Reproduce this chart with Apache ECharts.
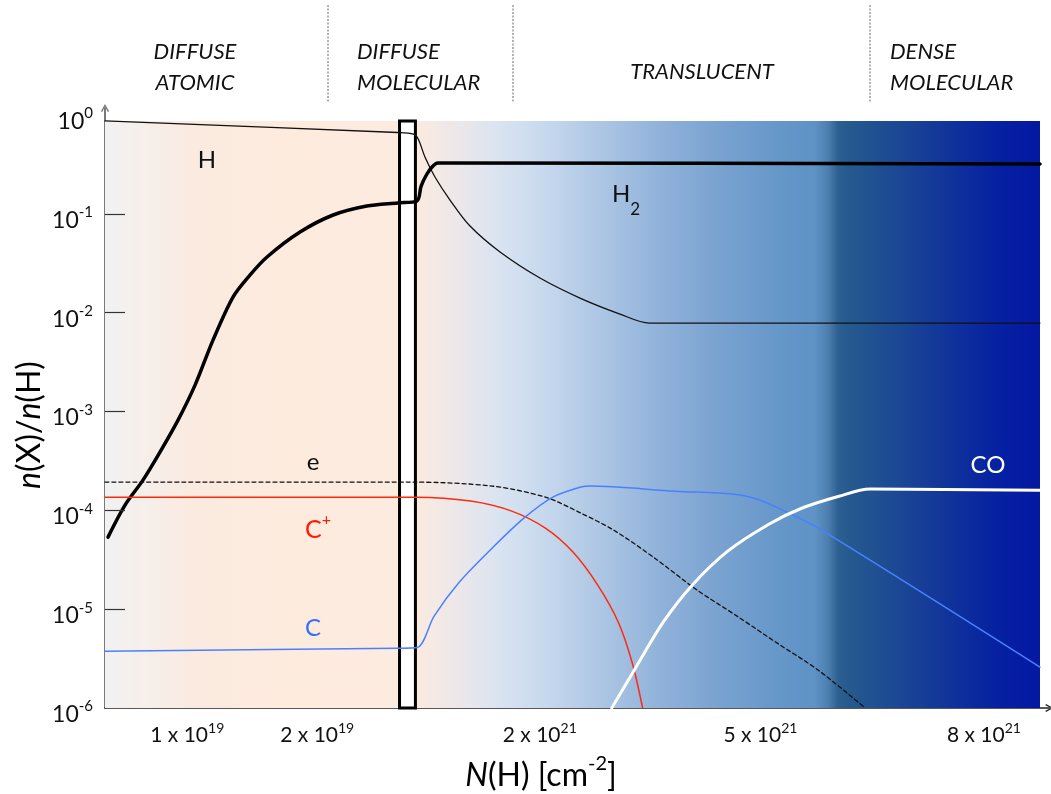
<!DOCTYPE html>
<html>
<head>
<meta charset="utf-8">
<script src="https://cdn.jsdelivr.net/npm/echarts@6/dist/echarts.min.js"></script>
<style>
  html, body { margin: 0; padding: 0; background: #ffffff; }
  #chart { width: 1051px; height: 794px; }
</style>
</head>
<body>
<div id="chart"></div>
<script>
// Schematic column-density axis: position units 0..100 across the plot
const xTickPos  = [8.8, 22.7, 46.5, 70.1, 94.0];
const xTickMant = ['1', '2', '2', '5', '8'];
const xTickExp  = ['19', '19', '21', '21', '21'];
const yTickValues = [1e-6, 1e-5, 1e-4, 1e-3, 1e-2, 1e-1, 1];
const yTickMarks = [1e-5, 1e-4, 1e-3, 1e-2, 1e-1];
const tickLength = 2.14;   // in position units along x

// Abundance profiles n(X)/n(H): [position, abundance]
const hAtomic = [[0, 0.87], [31.3, 0.665], [33.0, 0.64], [33.5, 0.571], [34.22, 0.376],
  [35.29, 0.236], [36.9, 0.138], [39.04, 0.0752], [42.25, 0.0411], [46.52, 0.0224],
  [50.8, 0.01405], [55.08, 9.68e-3], [58.2, 7.85e-3], [100, 7.85e-3]];
const hMolecular = [[0.32, 5.36e-5], [2.14, 1.13e-4], [4.06, 2.02e-4], [5.88, 3.88e-4],
  [7.81, 8.18e-4], [9.63, 1.85e-3], [11.55, 5.28e-3], [13.69, 1.44e-2], [15.5, 2.40e-2],
  [17.33, 3.66e-2], [20.86, 6.54e-2], [24.4, 9.73e-2], [28.0, 0.120], [31.3, 0.129],
  [33.37, 0.135], [33.8, 0.19], [34.4, 0.25], [35.0, 0.30], [35.6, 0.327], [100, 0.319]];
const electrons = [[0, 1.93e-4], [33.0, 1.93e-4], [41.4, 1.76e-4], [47.1, 1.36e-4],
  [50.9, 9.37e-5], [54.4, 6.31e-5], [58.8, 3.28e-5], [63.2, 1.59e-5], [67.6, 8.5e-6],
  [71.9, 4.53e-6], [76.3, 2.41e-6], [81.3, 1e-6]];
const carbonIon = [[0, 1.36e-4], [33.3, 1.36e-4], [39.1, 1.24e-4], [43.5, 9.82e-5],
  [47.1, 6.6e-5], [50.05, 3.78e-5], [52.7, 1.75e-5], [54.9, 7.38e-6], [56.4, 2.84e-6],
  [57.5, 1e-6]];
const carbonAtom = [[0, 3.76e-6], [31.3, 4.03e-6], [33.4, 4.1e-6], [35.2, 8.5e-6],
  [37.9, 1.88e-5], [41.4, 4.14e-5], [44.8, 8.34e-5], [47.9, 1.36e-4], [50.9, 1.72e-4],
  [51.9, 1.76e-4], [61.0, 1.56e-4], [67.1, 1.46e-4], [69.7, 1.30e-4], [72.7, 9.82e-5],
  [76.3, 6.6e-5], [100, 2.59e-6]];
const carbonMonoxide = [[54.2, 1e-6], [56.6, 2.41e-6], [59.7, 7.38e-6], [62.8, 1.75e-5],
  [66.6, 3.86e-5], [71.0, 7.24e-5], [74.5, 1.05e-4], [78.5, 1.39e-4], [81.8, 1.64e-4],
  [100, 1.60e-4]];

// Top of the shaded column and the narrow transition column
const plotTop = 0.87;
const transitionBox = [31.5, 33.2];

const FONT = 'Lato, "Noto Sans", sans-serif';
const chevron = 'path://M0,9 L5,0 L10,9 L8.4,9.8 L5,3 L1.6,9.8 Z';

const chart = echarts.init(document.getElementById('chart'), null, { renderer: 'canvas' });

function curve(name, data, color, width, type, z) {
  return {
    name: name, type: 'line', data: data, showSymbol: false, symbol: 'none',
    smooth: 0.3, silent: true, z: z,
    lineStyle: { color: color, width: width, type: type, cap: 'round', join: 'round' }
  };
}

const bgGradient = new echarts.graphic.LinearGradient(0, 0, 1, 0, [
  { offset: 0.00, color: '#f2f2f2' },
  { offset: 0.10, color: '#fbeadf' },
  { offset: 0.20, color: '#fdebde' },
  { offset: 0.33, color: '#fcebdf' },
  { offset: 0.38, color: '#ebe7ea' },
  { offset: 0.42, color: '#dae4f1' },
  { offset: 0.465, color: '#c9daee' },
  { offset: 0.53, color: '#adc6e4' },
  { offset: 0.594, color: '#90b2da' },
  { offset: 0.658, color: '#79a2d0' },
  { offset: 0.722, color: '#6597c9' },
  { offset: 0.759, color: '#5f92c5' },
  { offset: 0.773, color: '#4d7fb0' },
  { offset: 0.784, color: '#2d6091' },
  { offset: 0.795, color: '#255a8e' },
  { offset: 0.85, color: '#1b4794' },
  { offset: 0.914, color: '#0e2f9c' },
  { offset: 0.957, color: '#0520a2' },
  { offset: 1.00, color: '#0418a2' }
]);

function supRich(base, sup) {
  return {
    b: { fontFamily: FONT, fontSize: base, color: '#111', lineHeight: base + 4, verticalAlign: 'bottom' },
    s: { fontFamily: FONT, fontSize: sup, color: '#111', lineHeight: sup + 1, verticalAlign: 'top' }
  };
}

function regionText(x, y, text, align) {
  return {
    type: 'text', x: x, y: y, z: 20,
    style: { text: text, font: 'italic 22px ' + FONT, fill: '#111', align: align,
             verticalAlign: 'middle', lineHeight: 31 }
  };
}
function separator(x) {
  return {
    type: 'line', z: 20,
    shape: { x1: x, y1: 5, x2: x, y2: 103 },
    style: { stroke: '#666', lineWidth: 1, lineDash: [2, 1.5] }
  };
}
function species(x, y, text, color, rich) {
  return {
    type: 'text', x: x, y: y, z: 30,
    style: { text: text, fontFamily: FONT, fontSize: 24, fill: color, align: 'center',
             verticalAlign: 'middle', rich: rich || {} }
  };
}

const option = {
  animation: false,
  backgroundColor: '#ffffff',
  grid: { left: 105, top: 108, width: 944.35, height: 600, containLabel: false },
  xAxis: {
    type: 'value', min: 0, max: 101,
    axisLine: { show: true, lineStyle: { color: '#222', width: 1.5 },
                symbol: ['none', chevron], symbolSize: [14, 8] },
    axisTick: { show: false },
    splitLine: { show: false },
    axisLabel: {
      customValues: xTickPos, margin: 13,
      formatter: function (v) {
        let i = 0, best = Infinity;
        xTickPos.forEach(function (p, k) { if (Math.abs(p - v) < best) { best = Math.abs(p - v); i = k; } });
        return '{b|' + xTickMant[i] + ' x 10}{s|' + xTickExp[i] + '}';
      },
      rich: supRich(21, 14)
    }
  },
  yAxis: {
    type: 'log', logBase: 10, min: 1e-6, max: 1.177,
    axisLine: { show: true, lineStyle: { color: '#7a7a7a', width: 2 },
                symbol: ['none', chevron], symbolSize: [12, 8] },
    axisTick: { show: false },
    splitLine: { show: false },
    axisLabel: {
      customValues: yTickValues, margin: 12, padding: [9, 0, 0, 0],
      formatter: function (v) {
        const e = Math.round(Math.log10(v));
        return '{b|10}{s|' + e + '}';
      },
      rich: supRich(23, 15)
    }
  },
  series: [
    {
      name: 'background', type: 'line', data: [], silent: true, z: 1,
      markArea: {
        silent: true,
        itemStyle: { color: bgGradient },
        data: [[{ coord: [0, plotTop] }, { coord: [100, 1e-6] }]]
      }
    },
    {
      name: 'decade ticks', type: 'line', data: [], silent: true, z: 2,
      markLine: {
        silent: true, symbol: ['none', 'none'], label: { show: false },
        lineStyle: { color: '#333', width: 1.2, type: 'solid' },
        data: yTickMarks.map(function (v) { return [{ coord: [0, v] }, { coord: [tickLength, v] }]; })
      }
    },
    curve('H', hAtomic, '#111111', 1.3, 'solid', 3),
    curve('H2', hMolecular, '#000000', 3.5, 'solid', 3),
    curve('e', electrons, '#111111', 1.3, [4, 3], 3),
    curve('C+', carbonIon, '#ff2a0a', 1.5, 'solid', 3),
    curve('C', carbonAtom, '#4a80ff', 1.5, 'solid', 3),
    curve('CO', carbonMonoxide, '#ffffff', 3, 'solid', 3),
    {
      name: 'transition', type: 'line', data: [], silent: true, z: 10,
      markArea: {
        silent: true,
        itemStyle: { color: '#ffffff', borderColor: '#000000', borderWidth: 3 },
        data: [[{ coord: [transitionBox[0], plotTop] }, { coord: [transitionBox[1], 1e-6] }]]
      }
    }
  ],
  graphic: [
    separator(328), separator(513), separator(870),
    regionText(195, 67, 'DIFFUSE\nATOMIC', 'center'),
    regionText(357, 67, 'DIFFUSE\nMOLECULAR', 'left'),
    regionText(702, 72, 'TRANSLUCENT', 'center'),
    regionText(890, 67, 'DENSE\nMOLECULAR', 'left'),
    species(207, 160, 'H', '#111'),
    species(626, 200, '{m|H}{d|2}', '#111', {
      m: { fontFamily: FONT, fontSize: 24, color: '#111', lineHeight: 30, verticalAlign: 'top' },
      d: { fontFamily: FONT, fontSize: 17, color: '#111', lineHeight: 36, verticalAlign: 'bottom' }
    }),
    species(313, 462, 'e', '#111'),
    species(318, 527, '{m|C}{p|+}', '#ff1a00', {
      m: { fontFamily: FONT, fontSize: 25, color: '#ff1a00', lineHeight: 30, verticalAlign: 'bottom' },
      p: { fontFamily: FONT, fontSize: 16, color: '#ff1a00', lineHeight: 16, verticalAlign: 'top' }
    }),
    species(313, 628, 'C', '#3a6cff'),
    species(988, 465, 'CO', '#ffffff'),
    {
      type: 'text', x: 30, y: 425, rotation: Math.PI / 2, z: 20,
      style: {
        text: '{i|n}{r|(X)/}{i|n}{r|(H)}', align: 'center', verticalAlign: 'middle',
        rich: {
          i: { fontFamily: FONT, fontSize: 32, fontStyle: 'italic', color: '#111' },
          r: { fontFamily: FONT, fontSize: 32, color: '#111' }
        }
      }
    },
    {
      type: 'text', x: 541, y: 773, z: 20,
      style: {
        text: '{i|N}{r|(H) [cm}{s|-2}{r|]}', align: 'center', verticalAlign: 'middle',
        rich: {
          i: { fontFamily: FONT, fontSize: 32, fontStyle: 'italic', color: '#111', lineHeight: 38, verticalAlign: 'bottom' },
          r: { fontFamily: FONT, fontSize: 32, color: '#111', lineHeight: 38, verticalAlign: 'bottom' },
          s: { fontFamily: FONT, fontSize: 20, color: '#111', lineHeight: 20, verticalAlign: 'top' }
        }
      }
    }
  ]
};

chart.setOption(option);
</script>
</body>
</html>
